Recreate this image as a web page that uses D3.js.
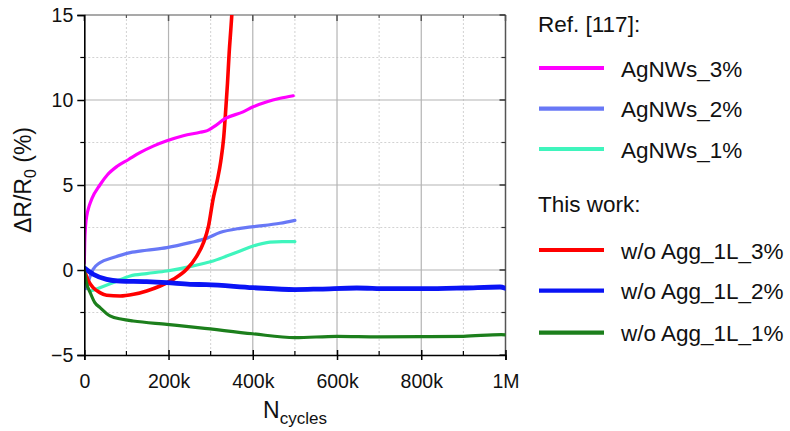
<!DOCTYPE html>
<html>
<head>
<meta charset="utf-8">
<script src="https://cdn.jsdelivr.net/npm/d3@7/dist/d3.min.js"></script>
<style>
  html, body { margin: 0; padding: 0; background: #fff; }
  svg { display: block; font-family: "Liberation Sans", Arial, sans-serif; }
</style>
</head>
<body>
<svg id="chart" width="790" height="431"></svg>
<script>
// Resistance change vs. bending cycles, [cycles, ΔR/R0 %]
const agnws3 = [[0,0.4],[1000,1.6],[3000,2.6],[6000,3.2],[12000,3.8],[18000,4.2],[37000,5.0],[55000,5.6],[78000,6.1],[105000,6.5],[132000,6.9],[165000,7.3],[196000,7.6],[235000,7.9],[275000,8.1],[292000,8.2],[306000,8.4],[334000,8.9],[377000,9.3],[401000,9.6],[434000,9.9],[465000,10.1],[496000,10.25]];
const agnws2 = [[0,-0.6],[5000,-1.1],[12000,-0.5],[21000,0.04],[37000,0.43],[69000,0.73],[109000,1.02],[148000,1.16],[196000,1.32],[251000,1.61],[290000,1.86],[322000,2.2],[370000,2.45],[401000,2.55],[465000,2.75],[500000,2.92]];
const agnws1 = [[14000,-1.25],[37000,-1.04],[69000,-0.74],[109000,-0.35],[148000,-0.21],[196000,-0.06],[251000,0.2],[290000,0.43],[306000,0.53],[338000,0.82],[370000,1.12],[401000,1.41],[441000,1.64],[470000,1.67],[500000,1.67]];
const agg3 = [[0,0],[10000,-0.65],[21000,-1.04],[37000,-1.33],[53000,-1.49],[85000,-1.53],[117000,-1.43],[148000,-1.23],[180000,-0.94],[211000,-0.55],[243000,0.04],[267000,0.82],[283000,1.61],[295000,2.6],[306000,4.2],[316000,5.3],[324000,6.4],[331000,7.8],[336000,9.5],[340000,11.0],[344000,12.8],[348000,14.2],[351000,15.3],[353000,16.0]];
const agg2 = [[0,0.12],[21000,-0.25],[53000,-0.55],[85000,-0.65],[148000,-0.68],[196000,-0.74],[251000,-0.84],[290000,-0.86],[401000,-1.04],[500000,-1.15],[560000,-1.12],[647000,-1.06],[720000,-1.1],[805000,-1.1],[900000,-1.06],[987000,-1.0],[1000000,-1.08]];
const agg1 = [[0,0],[5000,-0.74],[14000,-1.33],[25000,-1.92],[37000,-2.2],[61000,-2.7],[90000,-2.9],[116000,-3.0],[196000,-3.2],[275000,-3.4],[400000,-3.75],[500000,-3.98],[600000,-3.9],[700000,-3.93],[800000,-3.92],[900000,-3.9],[990000,-3.8],[1000000,-3.82]];

const seriesNames = ["AgNWs_3%", "AgNWs_2%", "AgNWs_1%", "w/o Agg_1L_3%", "w/o Agg_1L_2%", "w/o Agg_1L_1%"];
const seriesData = [agnws3, agnws2, agnws1, agg3, agg2, agg1];
const seriesColors = ["#ff00ff", "#6878f6", "#3ff5bd", "#ff0000", "#0a14f5", "#1c7f1c"];
const seriesWidths = [3.2, 3.2, 3.2, 3.6, 4.8, 3.2];
const legendGroups = ["Ref. [117]:", "This work:"];

const xMajor = [0, 200000, 400000, 600000, 800000, 1000000];
const xMinor = [100000, 300000, 500000, 700000, 900000];
const xTickLabels = ["0", "200k", "400k", "600k", "800k", "1M"];
const yMajor = [-5, 0, 5, 10, 15];
const yMinor = [-2.5, 2.5, 7.5, 12.5];

const svg = d3.select("#chart");
const pLeft = 84.3, pRight = 505.5, pTop = 15, pBottom = 355;

const x = d3.scaleLinear().domain([0, 1000000]).range([pLeft, pRight]);
const y = d3.scaleLinear().domain([-5, 15]).range([pBottom, pTop]);

// grid
const grid = svg.append("g");
grid.selectAll(".gxm").data(xMinor).join("line")
  .attr("x1", d => x(d)).attr("x2", d => x(d)).attr("y1", pTop).attr("y2", pBottom)
  .attr("stroke", "#d2d2d2").attr("stroke-width", 1).attr("stroke-dasharray", "2,2");
grid.selectAll(".gym").data(yMinor).join("line")
  .attr("y1", d => y(d)).attr("y2", d => y(d)).attr("x1", pLeft).attr("x2", pRight)
  .attr("stroke", "#d2d2d2").attr("stroke-width", 1).attr("stroke-dasharray", "2,2");
grid.selectAll(".gx").data(xMajor.slice(1, -1)).join("line")
  .attr("x1", d => x(d)).attr("x2", d => x(d)).attr("y1", pTop).attr("y2", pBottom)
  .attr("stroke", "#b4b4b4").attr("stroke-width", 1.2);
grid.selectAll(".gy").data(yMajor.slice(1, -1)).join("line")
  .attr("y1", d => y(d)).attr("y2", d => y(d)).attr("x1", pLeft).attr("x2", pRight)
  .attr("stroke", "#b4b4b4").attr("stroke-width", 1.2);

// frame: top and right
svg.append("line").attr("x1", pLeft).attr("x2", pRight).attr("y1", pTop).attr("y2", pTop)
  .attr("stroke", "#8c8c8c").attr("stroke-width", 1.5);
svg.append("line").attr("x1", pRight).attr("x2", pRight).attr("y1", pTop).attr("y2", pBottom)
  .attr("stroke", "#555").attr("stroke-width", 1.5);
// frame ticks (inward)
svg.append("g").selectAll("line").data(xMajor).join("line")
  .attr("x1", d => x(d)).attr("x2", d => x(d)).attr("y1", pTop).attr("y2", pTop + 6)
  .attr("stroke", "#555").attr("stroke-width", 1.5);
svg.append("g").selectAll("line").data(xMinor).join("line")
  .attr("x1", d => x(d)).attr("x2", d => x(d)).attr("y1", pTop).attr("y2", pTop + 3)
  .attr("stroke", "#555").attr("stroke-width", 1.2);
svg.append("g").selectAll("line").data(yMajor).join("line")
  .attr("x1", pRight - 6).attr("x2", pRight).attr("y1", d => y(d)).attr("y2", d => y(d))
  .attr("stroke", "#333").attr("stroke-width", 1.5);
svg.append("g").selectAll("line").data(yMinor).join("line")
  .attr("x1", pRight - 4).attr("x2", pRight).attr("y1", d => y(d)).attr("y2", d => y(d))
  .attr("stroke", "#333").attr("stroke-width", 1.2);

// data lines
svg.append("clipPath").attr("id", "plotClip").append("rect")
  .attr("x", pLeft).attr("y", pTop).attr("width", pRight - pLeft).attr("height", pBottom - pTop);
const line = d3.line().x(d => x(d[0])).y(d => y(d[1])).curve(d3.curveMonotoneX);
const plotG = svg.append("g").attr("clip-path", "url(#plotClip)");
const drawOrder = [1, 2, 3, 4, 5, 0];
drawOrder.forEach(i => {
  plotG.append("path").datum(seriesData[i])
    .attr("d", line).attr("fill", "none")
    .attr("stroke", seriesColors[i]).attr("stroke-width", seriesWidths[i])
    .attr("stroke-linejoin", "round").attr("stroke-linecap", "round");
});

// axes
const xAxis = d3.axisBottom(x).tickValues(xMajor)
  .tickFormat((d, i) => xTickLabels[i]).tickSize(5).tickPadding(14);
const gx = svg.append("g").attr("transform", `translate(0,${pBottom})`).call(xAxis);
gx.select(".domain").attr("stroke", "#000").attr("stroke-width", 1.6);
gx.selectAll(".tick line").attr("y1", -5).attr("stroke", "#000").attr("stroke-width", 1.5);
gx.selectAll(".tick text").attr("font-size", 19.5).attr("fill", "#111")
  .attr("font-family", "Liberation Sans, Arial, sans-serif");
svg.append("g").selectAll("line").data(xMinor).join("line")
  .attr("x1", d => x(d)).attr("x2", d => x(d)).attr("y1", pBottom - 4).attr("y2", pBottom)
  .attr("stroke", "#000").attr("stroke-width", 1.2);

const yAxis = d3.axisLeft(y).tickValues(yMajor).tickSize(7).tickPadding(4);
const gy = svg.append("g").attr("transform", `translate(${pLeft},0)`).call(yAxis);
gy.select(".domain").attr("stroke", "#000").attr("stroke-width", 1.6);
gy.selectAll(".tick line").attr("stroke", "#000").attr("stroke-width", 1.5);
gy.selectAll(".tick text").attr("font-size", 19.5).attr("fill", "#111")
  .attr("font-family", "Liberation Sans, Arial, sans-serif");
svg.append("g").selectAll("line").data(yMinor).join("line")
  .attr("x1", pLeft - 4).attr("x2", pLeft).attr("y1", d => y(d)).attr("y2", d => y(d))
  .attr("stroke", "#000").attr("stroke-width", 1.2);

// axis titles
const yt = svg.append("text")
  .attr("transform", `translate(31,180) rotate(-90)`)
  .attr("text-anchor", "middle").attr("font-size", 23).attr("fill", "#111");
yt.append("tspan").text("ΔR/R");
yt.append("tspan").attr("font-size", 16).attr("dy", 5).text("0");
yt.append("tspan").attr("dy", -5).text(" (%)");

const xt = svg.append("text").attr("x", 295).attr("y", 418)
  .attr("text-anchor", "middle").attr("font-size", 23).attr("fill", "#111");
xt.append("tspan").text("N");
xt.append("tspan").attr("font-size", 17).attr("dy", 6).text("cycles");

// legend
const legendHeaderY = [32, 212];
const legendRowY = [68, 108.7, 149, 250, 290.7, 332.7];
svg.selectAll(".lh").data(legendGroups).join("text")
  .attr("x", 538).attr("y", (d, i) => legendHeaderY[i])
  .attr("font-size", 22.5).attr("fill", "#111").text(d => d);
const lg = svg.append("g");
seriesNames.forEach((name, i) => {
  lg.append("line").attr("x1", 539).attr("x2", 604)
    .attr("y1", legendRowY[i]).attr("y2", legendRowY[i])
    .attr("stroke", seriesColors[i]).attr("stroke-width", 4.2);
  lg.append("text").attr("x", 621).attr("y", legendRowY[i] + 8.5)
    .attr("font-size", 22.5).attr("fill", "#111").text(name);
});
</script>
</body>
</html>
